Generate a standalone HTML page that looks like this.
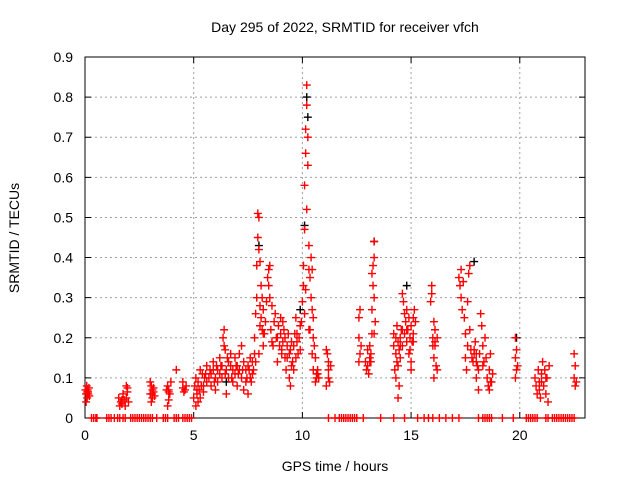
<!DOCTYPE html>
<html><head><meta charset="utf-8"><style>
body{margin:0;background:#fff;width:640px;height:480px;overflow:hidden}
svg text{font-family:"Liberation Sans",sans-serif;font-size:14px;fill:#000}
</style></head><body>
<svg id="chart" width="640" height="480" xmlns="http://www.w3.org/2000/svg">
<text x="345" y="32" text-anchor="middle">Day 295 of 2022, SRMTID for receiver vfch</text>
<text transform="translate(19,238) rotate(-90)" text-anchor="middle">SRMTID / TECUs</text>
<text x="335" y="471" text-anchor="middle">GPS time / hours</text>
<g id="grid"></g><g id="axes"></g><g id="black"></g><g id="red"></g>
</svg>
<script>
const xTicks=[0,5,10,15,20];
const yTicks=[0,0.1,0.2,0.3,0.4,0.5,0.6,0.7,0.8,0.9];
const yTickLabels=["0","0.1","0.2","0.3","0.4","0.5","0.6","0.7","0.8","0.9"];
const redT=[0.02,0.05,0.08,0.1,0.12,0.15,0.05,0.18,0.1,0.2,1.55,1.6,1.65,1.7,1.75,1.8,1.85,1.9,1.95,1.9,2.0,3.0,3.05,3.1,3.15,3.0,3.1,3.2,3.05,3.15,3.75,3.8,3.85,3.9,3.8,3.95,3.85,4.2,4.5,4.55,4.6,4.65,4.5,5.0,5.05,5.1,5.1,5.15,5.2,5.2,5.25,5.3,5.3,5.35,5.4,5.45,5.5,5.6,5.6,5.7,5.8,5.8,5.9,5.9,6.0,6.0,6.1,6.1,6.2,6.2,6.3,6.3,6.35,6.4,6.4,6.45,6.5,6.5,6.6,6.6,6.7,6.7,6.8,6.8,6.9,6.9,7.0,7.0,7.1,7.1,7.2,7.2,7.3,7.3,7.4,7.4,7.5,7.5,7.6,7.6,7.7,7.7,7.8,7.85,7.9,7.9,7.95,7.95,8.0,8.0,8.05,8.05,8.1,8.1,8.15,8.15,8.2,8.2,8.0,7.85,8.25,8.3,8.4,8.45,8.5,8.5,8.55,8.6,8.6,8.7,8.75,8.8,8.85,8.9,8.95,9.0,9.0,9.05,9.1,9.1,9.2,9.2,9.25,9.3,9.35,9.4,9.4,9.45,9.5,9.5,9.55,9.6,9.65,9.7,9.7,9.75,9.8,9.85,9.9,9.95,10.0,10.05,10.05,10.1,10.1,10.15,10.15,10.2,10.2,10.25,10.25,10.2,10.3,10.3,10.35,10.4,10.4,10.45,10.45,10.5,10.5,10.55,10.3,10.15,10.1,10.6,10.65,10.7,10.75,10.6,10.5,11.1,11.15,11.2,11.2,11.25,11.3,11.1,12.6,12.65,12.6,12.65,12.6,12.7,12.9,12.95,13.0,13.0,13.05,13.1,13.1,13.15,13.2,13.2,13.25,13.25,13.3,13.3,13.2,13.3,13.35,13.3,14.2,14.2,14.25,14.3,14.3,14.35,14.35,14.4,14.4,14.45,14.45,14.5,14.5,14.55,14.6,14.6,14.65,14.7,14.7,14.75,14.8,14.8,14.85,14.9,14.9,14.95,15.0,15.0,15.05,15.1,15.1,15.15,15.2,15.0,14.4,15.9,15.95,15.95,16.0,16.0,16.05,16.05,16.1,16.1,16.15,16.2,16.2,16.05,17.2,17.25,17.3,17.3,17.35,17.4,17.45,17.5,17.5,17.55,17.6,17.6,17.65,17.7,17.7,17.75,17.8,17.85,17.9,17.95,18.0,18.0,18.05,18.1,18.15,18.2,18.25,18.3,18.35,18.4,18.45,18.5,18.55,18.6,18.65,18.7,18.75,19.8,19.85,19.8,19.85,19.8,19.9,20.7,20.75,20.8,20.85,20.9,20.95,21.0,21.05,21.1,21.15,21.2,21.25,21.3,21.35,22.5,22.55,22.5,22.6,22.55];
const redV=[0.07,0.06,0.08,0.05,0.07,0.06,0.04,0.075,0.065,0.055,0.05,0.03,0.04,0.035,0.06,0.045,0.03,0.08,0.075,0.05,0.04,0.09,0.08,0.07,0.065,0.06,0.05,0.055,0.04,0.075,0.07,0.08,0.065,0.06,0.03,0.09,0.045,0.12,0.075,0.065,0.07,0.08,0.09,0.05,0.08,0.03,0.1,0.06,0.04,0.09,0.07,0.12,0.05,0.08,0.11,0.065,0.1,0.13,0.09,0.1,0.11,0.08,0.12,0.14,0.1,0.07,0.12,0.09,0.11,0.15,0.1,0.13,0.2,0.22,0.18,0.17,0.12,0.06,0.14,0.1,0.13,0.16,0.12,0.09,0.11,0.15,0.13,0.08,0.12,0.16,0.18,0.1,0.14,0.07,0.12,0.09,0.13,0.06,0.1,0.15,0.11,0.14,0.2,0.26,0.3,0.38,0.45,0.51,0.5,0.42,0.39,0.28,0.25,0.33,0.22,0.3,0.18,0.27,0.16,0.14,0.21,0.24,0.35,0.37,0.38,0.3,0.22,0.19,0.28,0.24,0.26,0.2,0.14,0.23,0.18,0.25,0.21,0.16,0.19,0.24,0.2,0.15,0.12,0.18,0.21,0.1,0.16,0.08,0.13,0.19,0.14,0.18,0.21,0.15,0.25,0.19,0.16,0.2,0.17,0.24,0.29,0.33,0.38,0.47,0.58,0.66,0.72,0.83,0.78,0.7,0.63,0.52,0.43,0.37,0.35,0.4,0.3,0.27,0.37,0.25,0.2,0.18,0.22,0.32,0.26,0.15,0.11,0.12,0.1,0.09,0.12,0.17,0.16,0.1,0.14,0.09,0.13,0.08,0.25,0.27,0.2,0.16,0.14,0.18,0.14,0.12,0.13,0.17,0.11,0.15,0.18,0.14,0.21,0.27,0.33,0.38,0.4,0.44,0.36,0.3,0.24,0.21,0.21,0.18,0.12,0.1,0.16,0.23,0.14,0.19,0.13,0.17,0.08,0.2,0.15,0.22,0.18,0.31,0.29,0.26,0.21,0.24,0.19,0.27,0.22,0.25,0.16,0.2,0.23,0.14,0.19,0.21,0.25,0.27,0.24,0.12,0.05,0.29,0.33,0.31,0.2,0.18,0.24,0.15,0.19,0.22,0.13,0.2,0.12,0.1,0.35,0.33,0.37,0.3,0.27,0.34,0.25,0.21,0.15,0.12,0.18,0.29,0.36,0.38,0.22,0.17,0.15,0.14,0.17,0.19,0.16,0.1,0.13,0.07,0.16,0.26,0.23,0.18,0.14,0.2,0.15,0.1,0.08,0.12,0.16,0.09,0.11,0.2,0.17,0.15,0.12,0.1,0.13,0.1,0.08,0.06,0.12,0.09,0.05,0.11,0.14,0.08,0.12,0.06,0.1,0.04,0.13,0.16,0.13,0.1,0.09,0.08];
const extraT=[0.08,0.14,1.7,1.95,3.08,3.85,5.15,5.45,5.55,5.75,5.95,6.05,6.25,6.45,6.55,6.75,6.95,7.05,7.25,7.45,7.55,7.65,7.75,7.8,8.05,8.2,8.35,8.45,8.65,8.85,9.05,9.15,9.3,9.45,9.6,9.75,9.9,10.35,10.45,10.65,10.7,11.2,13.1,13.15,14.3,14.5,14.6,14.8,14.95,15.1,16.1,17.9,18.0,18.1,18.3,18.6,18.65,20.9,21.0,21.2];
const extraV=[0.06,0.065,0.045,0.065,0.06,0.07,0.07,0.08,0.11,0.12,0.09,0.13,0.13,0.11,0.15,0.1,0.13,0.11,0.12,0.1,0.12,0.09,0.12,0.16,0.23,0.21,0.29,0.33,0.18,0.2,0.17,0.22,0.15,0.17,0.12,0.21,0.23,0.22,0.16,0.1,0.11,0.12,0.14,0.16,0.2,0.18,0.22,0.22,0.17,0.19,0.18,0.16,0.14,0.12,0.13,0.07,0.09,0.07,0.09,0.1];
const blackT=[10.2,10.25,13.3,17.9,9.9,14.8,19.85,8.0,10.1,6.5];
const blackV=[0.8,0.75,0.44,0.39,0.27,0.33,0.2,0.43,0.48,0.09];
const zeroT=[0.3,0.4,0.5,0.55,1.0,1.1,1.2,1.35,1.5,1.6,1.75,1.85,2.1,2.2,2.3,2.4,2.5,2.6,2.7,2.8,2.9,3.0,3.1,3.3,3.6,3.7,3.8,4.1,4.2,4.3,4.5,4.6,4.7,4.8,4.9,11.2,11.5,11.7,11.8,11.9,12.0,12.1,12.2,12.3,12.4,12.5,12.8,13.6,14.2,14.7,15.3,15.6,15.8,16.0,16.3,16.6,16.9,17.2,18.1,18.3,18.4,18.5,18.6,18.7,19.2,19.7,20.3,20.4,20.5,20.6,20.7,20.8,21.2,21.3,21.5,21.6,21.7,21.8,21.9,22.0,22.1,22.2,22.3,22.4,22.5];
const X0=85,X1=585,Y0=418,Y1=57,XMAX=23,YMAX=0.9;
const xs=t=>X0+t/XMAX*(X1-X0);
const ys=v=>Y0-v/YMAX*(Y0-Y1);
const NS="http://www.w3.org/2000/svg";
function mk(tag,parent,attrs){const e=document.createElementNS(NS,tag);for(const k in attrs)e.setAttribute(k,attrs[k]);document.getElementById(parent).appendChild(e);return e;}
xTicks.forEach((t,i)=>{const x=xs(t);
 if(i>0){const g=mk('line','grid',{x1:x,y1:Y1,x2:x,y2:Y0,stroke:'#a0a0a0','stroke-dasharray':'2,3'});
 
 }
 const tk=mk('path','axes',{d:`M${x},${Y0}v-6M${x},${Y1}v6`,stroke:'#000'});
 
 
 const lb=mk('text','axes',{x:x,y:Y0+22,'text-anchor':'middle'});lb.textContent=String(t);
 
 });
yTicks.forEach((v,i)=>{const y=ys(v);
 if(i>0&&i<yTicks.length-1){const g=mk('line','grid',{x1:X0,y1:y,x2:X1,y2:y,stroke:'#a0a0a0','stroke-dasharray':'2,3'});
 
 }
 const tk=mk('path','axes',{d:`M${X0},${y}h6M${X1},${y}h-6`,stroke:'#000'});
 
 
 const lb=mk('text','axes',{x:X0-12,y:y+5,'text-anchor':'end'});lb.textContent=yTickLabels[i];
 
 });
const fr=mk('rect','axes',{x:X0,y:Y1,width:X1-X0,height:Y0-Y1,fill:'none',stroke:'#000'});


function plus(parent,t,v,col,name){const x=xs(t),y=ys(v);
 const p=mk('path',parent,{d:`M${x-4},${y}h8M${x},${y-4}v8`,stroke:col,'stroke-width':1.4});
 
 }
blackT.forEach((t,i)=>plus('black',t,blackV[i],'#000','black-point'));
redT.forEach((t,i)=>plus('red',t,redV[i],'#f00','red-point'));
extraT.forEach((t,i)=>plus('red',t,extraV[i],'#f00','red-point'));
zeroT.forEach(t=>plus('red',t,0,'#f00','zero-point'));
</script>
</body></html>
